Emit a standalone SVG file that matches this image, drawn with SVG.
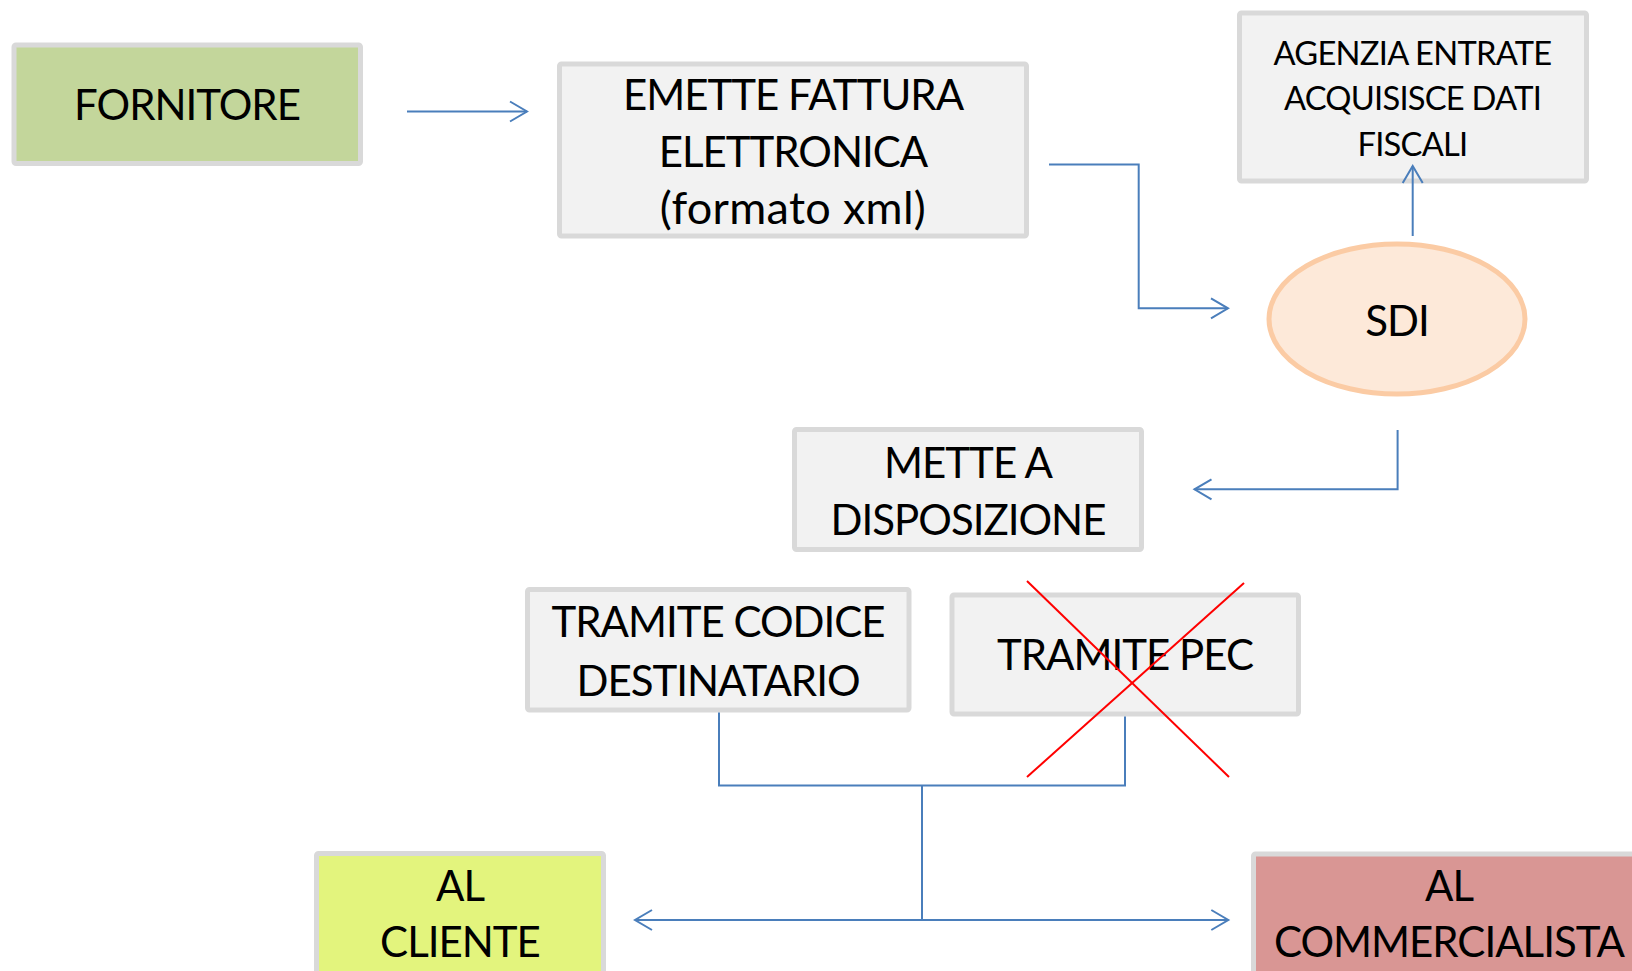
<svg xmlns="http://www.w3.org/2000/svg" width="1632" height="971" viewBox="0 0 1632 971">
<style>
.box{fill:#F2F2F2;stroke:#D9D9D9;stroke-width:5}
.t{font-family:Lato,"Liberation Sans",sans-serif;font-size:42px;fill:#000;text-anchor:middle;letter-spacing:-1px}
.s{font-size:32.7px;letter-spacing:-0.75px}
.lc{font-size:45px;letter-spacing:0.3px}
.c{fill:none;stroke:#4A7EBB;stroke-width:2}
.x{stroke:#FF0000;stroke-width:2}
</style>
<defs>
<marker id="ah" markerUnits="userSpaceOnUse" markerWidth="22" markerHeight="24" viewBox="0 0 22 24" refX="19" refY="12" orient="auto-start-reverse">
<path d="M2,2 L19,12 L2,22" fill="none" stroke="#4A7EBB" stroke-width="2"/>
</marker>
</defs>
<rect width="1632" height="971" fill="#FFFFFF"/>

<g id="fornitore">
<rect x="14" y="45" width="346.5" height="118.5" rx="2" style="fill:#C3D69B;stroke:#D9D9D9;stroke-width:5"/>
<text class="t" x="187" y="120">FORNITORE</text>
</g>

<g id="emette">
<rect class="box" x="559.5" y="64" width="467" height="172" rx="2"/>
<text class="t" x="793" y="110">EMETTE FATTURA</text>
<text class="t" x="793" y="167">ELETTRONICA</text>
<text class="t lc" x="793" y="224">(formato xml)</text>
</g>

<g id="agenzia">
<rect class="box" x="1239.5" y="13" width="347" height="168" rx="2"/>
<text class="t s" x="1412.5" y="65">AGENZIA ENTRATE</text>
<text class="t s" x="1412.5" y="110">ACQUISISCE DATI</text>
<text class="t s" x="1412.5" y="155.5">FISCALI</text>
</g>

<g id="sdi">
<ellipse cx="1397" cy="319" rx="128" ry="75" style="fill:#FDE9D9;stroke:#FBCBA4;stroke-width:5"/>
<text class="t" x="1397" y="336">SDI</text>
</g>

<g id="mette">
<rect class="box" x="794.5" y="429.5" width="347" height="120" rx="2"/>
<text class="t" x="968" y="478">METTE A</text>
<text class="t" x="968" y="535">DISPOSIZIONE</text>
</g>

<g id="codice">
<rect class="box" x="527.5" y="589.5" width="381.5" height="120.5" rx="2"/>
<text class="t" x="718" y="637">TRAMITE CODICE</text>
<text class="t" x="718" y="696">DESTINATARIO</text>
</g>

<g id="pec">
<rect class="box" x="952" y="595" width="346.5" height="119" rx="2"/>
<text class="t" x="1125" y="670">TRAMITE PEC</text>
<line class="x" x1="1027" y1="581" x2="1229" y2="777"/>
<line class="x" x1="1244" y1="583" x2="1027" y2="777"/>
</g>

<g id="cliente">
<rect x="316.5" y="853.5" width="287" height="140" rx="2" style="fill:#E3F47D;stroke:#D9D9D9;stroke-width:5"/>
<text class="t" x="460" y="901">AL</text>
<text class="t" x="460" y="957">CLIENTE</text>
</g>

<g id="commercialista">
<rect x="1253.5" y="854" width="400" height="140" rx="2" style="fill:#D99694;stroke:#D9D9D9;stroke-width:5"/>
<text class="t" x="1449" y="901">AL</text>
<text class="t" x="1449" y="957">COMMERCIALISTA</text>
</g>

<g id="connectors">
<path class="c" d="M407,111.5 L527,111.5" marker-end="url(#ah)"/>
<path class="c" d="M1049,164.5 L1138.7,164.5 L1138.7,308.3 L1228,308.3" marker-end="url(#ah)"/>
<path class="c" d="M1412.7,236 L1412.7,166" marker-end="url(#ah)"/>
<path class="c" d="M1397.6,430 L1397.6,489.3 L1194.5,489.3" marker-end="url(#ah)"/>
<path class="c" d="M719,712.5 L719,785.5 L1125,785.5 L1125,716.5"/>
<path class="c" d="M922,785.5 L922,920"/>
<path class="c" d="M635,920 L1228.3,920" marker-start="url(#ah)" marker-end="url(#ah)"/>
</g>
</svg>
